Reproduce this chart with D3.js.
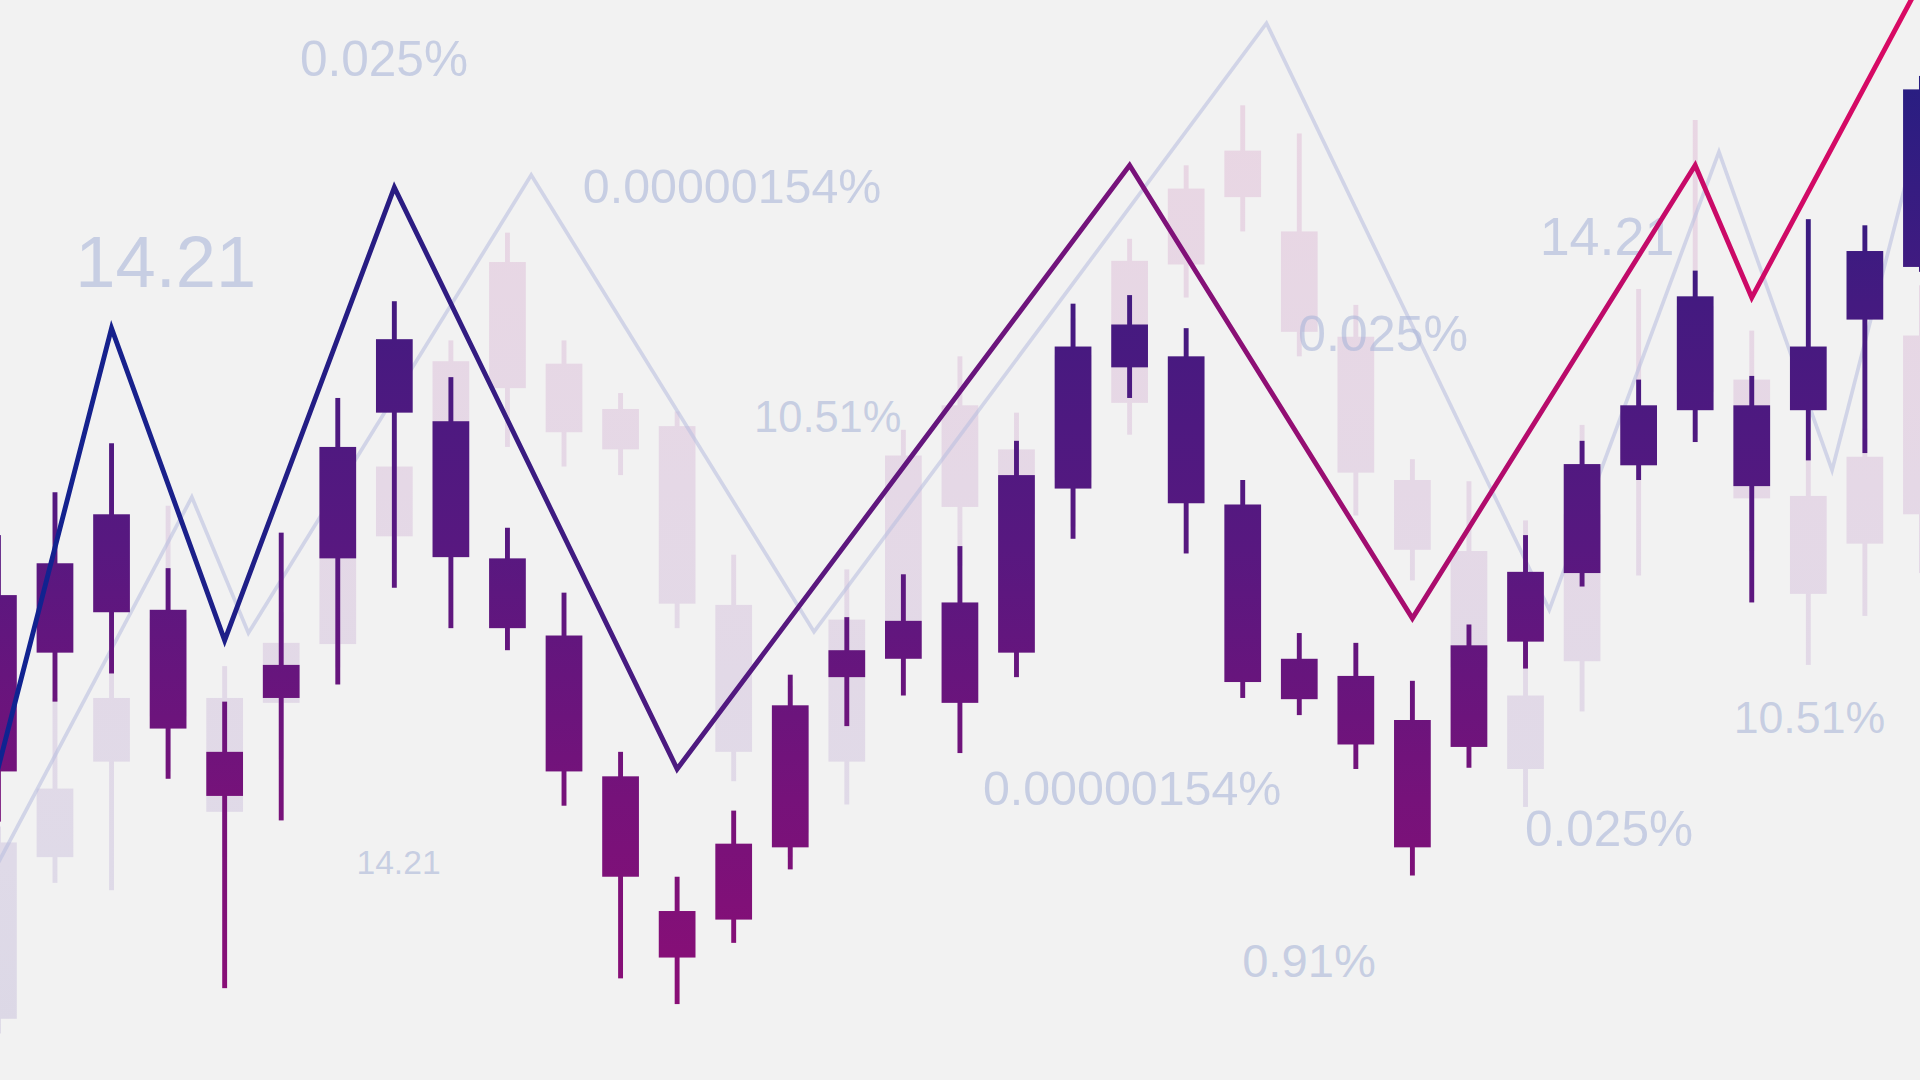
<!DOCTYPE html>
<html>
<head>
<meta charset="utf-8">
<script src="https://cdn.jsdelivr.net/npm/d3@7"></script>
<style>
html,body{margin:0;padding:0;background:#f2f2f2;overflow:hidden}
svg{display:block}
</style>
</head>
<body>
<svg id="chart" width="1920" height="1080" viewBox="0 0 1568 882"></svg>
<script>
// ---------- data ----------
const sessions = d3.range(35);

// foreground candles
const fgHigh   = [44.5,48.0,52.0,41.8,30.9,44.7,55.7,63.6,57.4,45.1,39.8,26.8,16.6,22.0,33.1,37.8,41.3,43.6,52.2,63.4,64.1,61.4,49.0,36.5,35.7,32.6,37.2,44.5,52.2,57.2,66.1,57.5,70.3,69.8,82.0];
const fgTop    = [39.6,42.2,46.2,38.4,26.8,33.9,51.7,60.5,53.8,42.6,36.3,24.8,13.8,19.3,30.6,35.1,37.5,39.0,49.4,59.9,61.7,59.1,47.0,34.4,33.0,29.4,35.5,41.5,50.3,55.1,64.0,55.1,59.9,67.7,80.9];
const fgBottom = [25.2,34.9,38.2,28.7,23.2,31.2,42.6,54.5,42.7,36.9,25.2,16.6,10.0,13.1,19.0,32.9,34.4,30.8,34.9,48.3,58.2,47.1,32.5,31.1,27.4,19.0,27.2,35.8,41.4,50.2,54.7,48.5,54.7,62.1,66.4];
const fgLow    = [21.1,30.9,33.2,24.6,7.5,21.2,32.3,40.2,36.9,35.1,22.4,8.3,6.2,11.2,17.2,28.9,31.4,26.7,32.9,44.2,55.7,43.0,31.2,29.8,25.4,16.7,25.5,33.6,40.3,49.0,52.1,39.0,50.6,51.2,66.0];

// background (faded) candles
const bgHigh   = [20.7,31.2,33.7,46.9,33.8,38.2,45.2,52.2,60.4,69.2,60.4,56.1,54.6,42.9,32.2,41.7,53.1,59.1,54.5,62.2,68.7,74.7,79.6,77.3,63.3,50.7,48.9,45.7,53.5,64.6,78.4,61.2,51.2,53.2,64.9];
const bgTop    = [19.4,23.8,31.2,37.7,31.2,35.7,44.2,50.1,58.7,66.8,58.5,54.8,53.4,38.8,30.2,37.6,51.0,55.1,51.5,59.2,66.9,72.8,75.9,69.3,60.7,49.0,43.2,31.4,46.2,54.2,63.2,57.2,47.7,50.9,60.8];
const bgBottom = [5.0,18.2,26.0,29.7,21.9,30.8,35.6,44.4,48.2,56.5,52.9,51.5,38.9,26.8,20.2,26.0,37.5,46.8,46.2,49.2,55.3,66.6,72.1,61.1,49.6,43.3,33.7,25.4,34.2,50.7,56.2,47.5,39.7,43.8,46.2];
const bgLow    = [3.8,16.1,15.5,25.2,18.2,26.2,33.7,42.2,44.2,51.7,50.1,49.4,36.9,24.4,18.2,22.5,35.7,42.0,43.2,45.2,52.7,63.9,69.3,59.1,46.1,40.8,28.2,22.3,30.1,41.2,52.7,43.2,33.9,37.9,41.4];

// zigzag trend lines (session index, value)
const fgLineAt  = [-0.5, 2, 4, 7, 12, 20, 25, 30, 31, 35];
const fgLineVal = [16.6, 61.4, 35.9, 72.9, 25.4, 74.7, 37.7, 74.7, 63.9, 98.4];
const bgLineAt  = [-0.5, 3.42, 4.42, 9.42, 14.42, 22.42, 27.42, 30.42, 32.42, 35];
const bgLineVal = [13.4, 47.6, 36.5, 73.9, 36.6, 86.3, 38.4, 75.8, 49.8, 96.2];

// floating labels
const labelText = ["0.025%","14.21","0.00000154%","10.51%","14.21","0.025%","0.00000154%","10.51%","0.025%","0.91%","14.21"];
const labelAt   = [5.33, 1.36, 10.333, 13.36, 27.25, 22.977, 17.406, 30.68, 26.99, 21.99, 6.33];
const labelVal  = [82.0, 64.8, 71.65, 52.95, 67.4, 59.56, 22.46, 28.35, 19.07, 8.44, 16.8];
const labelSize = [40.5, 59, 39.5, 35.5, 44, 41, 39.5, 36.5, 40.5, 38.5, 27.5];

// ---------- drawing ----------
const W = 1568, H = 882;
const svg = d3.select("#chart");
const x = d3.scaleLinear().domain([0, 34]).range([-1.29, 1569.17]);
const y = d3.scaleLinear().domain([0, 88.2]).range([H, 0]);
const bodyW = 30, wickW = 4;

const defs = svg.append("defs");
function grad(id, horiz, stops) {
  const g = defs.append("linearGradient").attr("id", id)
    .attr("gradientUnits", "userSpaceOnUse")
    .attr("x1", 0).attr("y1", 0)
    .attr("x2", horiz ? W : 0).attr("y2", horiz ? 0 : H);
  stops.forEach(s => g.append("stop").attr("offset", s[0]).attr("stop-color", s[1]));
}
grad("fgCandle", false, [[0.07,"rgb(40,30,130)"],[0.28,"rgb(68,26,128)"],[0.51,"rgb(88,24,128)"],[0.74,"rgb(118,18,122)"],[0.93,"rgb(138,14,118)"]]);
grad("bgCandle", false, [[0.09,"rgb(233,214,227)"],[0.45,"rgb(229,216,230)"],[0.8,"rgb(223,218,232)"],[0.95,"rgb(220,216,230)"]]);
grad("fgLine", true, [[0,"rgb(15,35,145)"],[0.2,"rgb(40,28,130)"],[0.35,"rgb(76,26,128)"],[0.59,"rgb(120,18,122)"],[0.735,"rgb(168,12,110)"],[0.88,"rgb(200,10,104)"],[1,"rgb(218,10,100)"]]);

svg.append("rect").attr("width", W).attr("height", H).attr("fill", "#f2f2f2");

function candles(cls, hi, top, bot, lo, fill) {
  const g = svg.append("g").attr("class", cls).attr("fill", fill);
  g.selectAll("rect.wick").data(sessions).join("rect").attr("class", "wick")
    .attr("x", i => x(i) - wickW / 2).attr("width", wickW)
    .attr("y", i => y(hi[i])).attr("height", i => y(lo[i]) - y(hi[i]));
  g.selectAll("rect.body").data(sessions).join("rect").attr("class", "body")
    .attr("x", i => x(i) - bodyW / 2).attr("width", bodyW)
    .attr("y", i => y(top[i])).attr("height", i => y(bot[i]) - y(top[i]));
}

const line = d3.line().x(d => x(d[0])).y(d => y(d[1]));

// background layer
candles("bg", bgHigh, bgTop, bgBottom, bgLow, "url(#bgCandle)");
svg.append("path").datum(d3.zip(bgLineAt, bgLineVal)).attr("d", line)
  .attr("fill", "none").attr("stroke", "rgb(186,192,224)").attr("stroke-opacity", 0.6)
  .attr("stroke-width", 3).attr("stroke-linejoin", "miter").attr("stroke-miterlimit", 20);

// labels
svg.append("g").selectAll("text").data(labelText).join("text")
  .attr("x", (d, i) => x(labelAt[i])).attr("y", (d, i) => y(labelVal[i]))
  .attr("font-size", (d, i) => labelSize[i])
  .attr("font-family", "'Liberation Sans', Arial, Helvetica, sans-serif")
  .attr("fill", "rgb(170,182,216)").attr("fill-opacity", 0.6)
  .text(d => d);

// foreground layer
candles("fg", fgHigh, fgTop, fgBottom, fgLow, "url(#fgCandle)");
svg.append("path").datum(d3.zip(fgLineAt, fgLineVal)).attr("d", line)
  .attr("fill", "none").attr("stroke", "url(#fgLine)")
  .attr("stroke-width", 4).attr("stroke-linejoin", "miter").attr("stroke-miterlimit", 20);
</script>
</body>
</html>
